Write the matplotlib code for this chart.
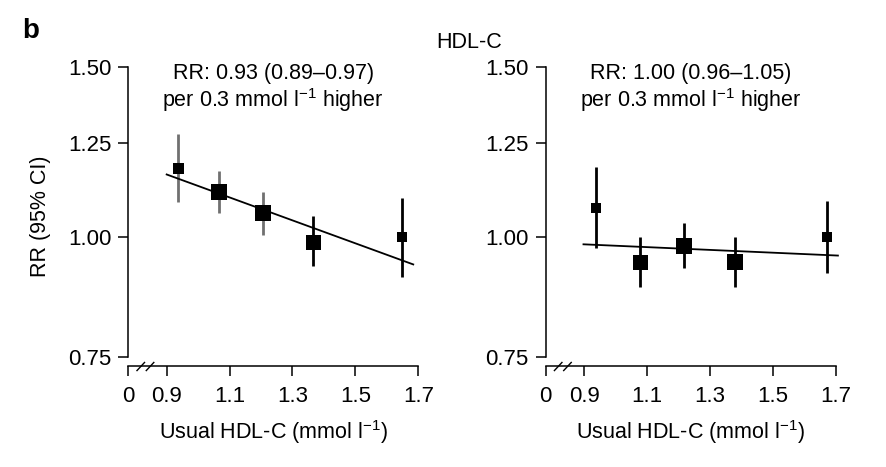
import numpy as np
import matplotlib
matplotlib.use('Agg')
import matplotlib.pyplot as plt

plt.rcParams['font.family'] = ['Liberation Sans', 'DejaVu Sans']
plt.rcParams['mathtext.fontset'] = 'custom'
plt.rcParams['mathtext.rm'] = 'Liberation Sans'
plt.rcParams['mathtext.it'] = 'Liberation Sans'
plt.rcParams['mathtext.default'] = 'regular'

# HDL-C, left panel
left_x = [0.935, 1.066, 1.205, 1.365, 1.647]
left_rr = [1.179, 1.112, 1.057, 0.988, 1.000]
left_lo = [1.087, 1.057, 1.005, 0.932, 0.908]
left_hi = [1.279, 1.171, 1.113, 1.050, 1.097]
left_fit_x = [0.90, 1.684]
left_fit_y = [1.160, 0.936]
left_text = 'RR: 0.93 (0.89\u20130.97)'

# HDL-C, right panel
right_x = [0.937, 1.077, 1.217, 1.378, 1.670]
right_rr = [1.071, 0.942, 0.979, 0.942, 1.000]
right_lo = [0.973, 0.888, 0.927, 0.888, 0.916]
right_hi = [1.181, 1.000, 1.034, 1.000, 1.090]
right_fit_x = [0.898, 1.706]
right_fit_y = [0.982, 0.956]
right_text = 'RR: 1.00 (0.96\u20131.05)'

y_ticks = [0.75, 1.00, 1.25, 1.50]
y_labels = ['0.75', '1.00', '1.25', '1.50']
x_ticks = [0.9, 1.1, 1.3, 1.5, 1.7]
x_labels = ['0.9', '1.1', '1.3', '1.5', '1.7']

# styling
XBREAK = 0.778      # where the "0" sits on the broken axis
YBOTTOM = 0.734
left_box = [11, 16, 16, 15, 9.5]     # marker sizes in px
right_box = [10, 15, 16, 16, 10]
left_ci_col = ['#707070', '#707070', '#707070', 'black', 'black']
right_ci_col = ['black'] * 5
FS = 15.5
TICK_FS = 16

fig = plt.figure(figsize=(8.86, 4.67), dpi=100)


def panel(ax, xs, rr, lo, hi, fx, fy, boxes, cicol, txt):
    for x, y, l, h, b, c in zip(xs, rr, lo, hi, boxes, cicol):
        ax.plot([x, x], [l, h], color=c, lw=2.0, solid_capstyle='butt', zorder=2)
        ax.plot(x, y, marker='s', ms=b * 0.72, color='black', mec='black', mew=0, zorder=3)
    ax.plot(fx, fy, color='black', lw=1.3, zorder=4, clip_on=False)
    ax.set_yscale('log')
    ax.set_xlim(XBREAK, 1.7)
    ax.set_ylim(YBOTTOM, 1.5)
    ax.set_yticks(y_ticks)
    ax.set_yticklabels(y_labels)
    ax.yaxis.set_minor_locator(matplotlib.ticker.NullLocator())
    ax.set_xticks([XBREAK] + x_ticks)
    ax.set_xticklabels(['0'] + x_labels)
    for s in ['top', 'right']:
        ax.spines[s].set_visible(False)
    ax.spines['left'].set_bounds(0.75, 1.5)
    for s in ['left', 'bottom']:
        ax.spines[s].set_linewidth(1.1)
    ax.tick_params(axis='both', direction='out', length=7.2, width=1.1,
                   labelsize=TICK_FS, colors='black')
    ax.tick_params(axis='y', pad=5)
    ax.tick_params(axis='x', pad=7)
    ax.set_xlabel('Usual HDL-C (mmol l$^{-1}$)', fontsize=FS, labelpad=8)
    ax.text(0.5, 1.012, txt + '\nper 0.3 mmol l$^{-1}$ higher', transform=ax.transAxes,
            ha='center', va='top', fontsize=FS, linespacing=1.1)
    # axis-break marks
    for x0 in [0.030, 0.062]:
        ax.plot([x0, x0 + 0.026], [-0.014, 0.013], transform=ax.transAxes,
                color='black', lw=1.0, clip_on=False)
    ax.patch.set_alpha(0)


ax1 = fig.add_axes([0.1448, 0.2155, 0.3273, 0.6417])
ax2 = fig.add_axes([0.6159, 0.2155, 0.3277, 0.6417])

panel(ax1, left_x, left_rr, left_lo, left_hi, left_fit_x, left_fit_y,
      left_box, left_ci_col, left_text)
panel(ax2, right_x, right_rr, right_lo, right_hi, right_fit_x, right_fit_y,
      right_box, right_ci_col, right_text)

ax1.set_ylabel('RR (95% CI)', fontsize=FS, labelpad=12)

fig.text(31 / 886, 1 - 31 / 467, 'b', fontsize=20, fontweight='bold', ha='center', va='center')
fig.text(469 / 886, 1 - 42 / 467, 'HDL-C', fontsize=FS, ha='center', va='center')

fig.savefig('out.png', dpi=100)
